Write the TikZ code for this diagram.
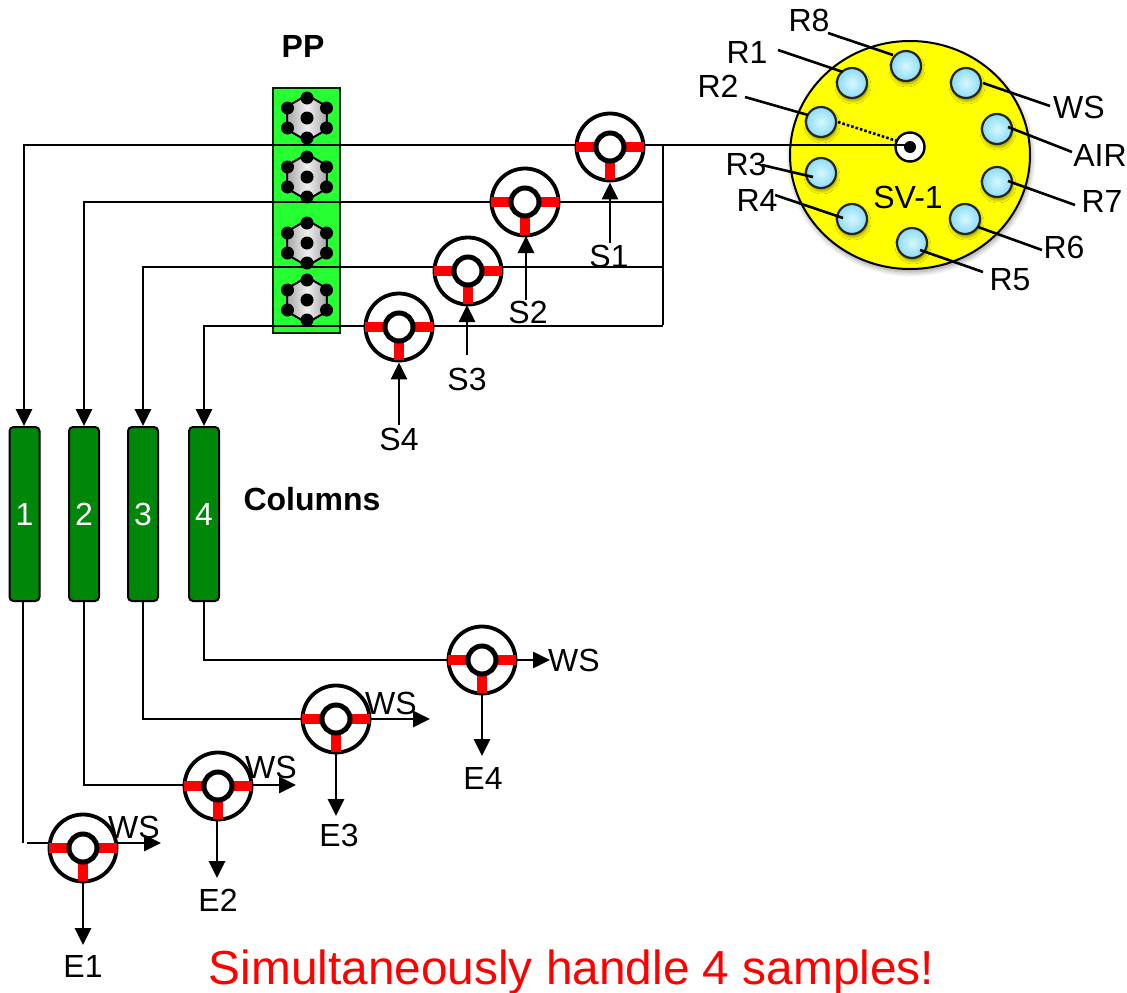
\documentclass[tikz,border=0pt]{standalone}
\usepackage{fontspec}
\setmainfont{Liberation Sans}
\usetikzlibrary{arrows.meta,calc,shapes.geometric,shadows.blur}
\pgfdeclarelayer{lines}
\pgfsetlayers{lines,main}
\definecolor{portblue}{RGB}{140,220,245}
\definecolor{portlight}{RGB}{215,248,255}
\definecolor{colgreen}{RGB}{0,135,10}
\definecolor{ppgreen}{RGB}{38,255,50}
\definecolor{svyellow}{RGB}{255,255,0}
\definecolor{pure}{RGB}{255,0,0}
\tikzset{
  x=1pt,y=-1pt,
  txt/.style={inner sep=0pt,font=\fontsize{32}{32}\selectfont},
  boldtxt/.style={inner sep=0pt,font=\fontsize{32}{32}\selectfont\bfseries},
  pipe/.style={line width=2.9pt,line cap=butt},
  arr/.style={pipe,-{Triangle[length=17pt,width=16pt]}},
  leader/.style={line width=2.6pt},
  valveouter/.style={circle,draw=black,fill=white,line width=3.8pt,minimum size=67pt,inner sep=0pt},
  valveinner/.style={circle,draw=black,fill=white,line width=5pt,minimum size=28pt,inner sep=0pt},
  bar/.style={pure,line width=10pt},
  column/.style={rectangle,rounded corners=4pt,draw=black,fill=colgreen,line width=2pt,minimum width=30pt,minimum height=174pt,inner sep=0pt,text=white,font=\fontsize{32}{32}\selectfont},
  portnode/.style={circle,draw=black!85,line width=2.2pt,minimum size=30pt,inner sep=0pt,inner color=portlight,outer color=portblue,blur shadow={shadow blur steps=6,shadow xshift=1pt,shadow yshift=-3pt,shadow blur radius=3pt,shadow opacity=40}},
  gearhex/.style={regular polygon,regular polygon sides=6,shape border rotate=30,draw=black,line width=2pt,minimum size=46pt,inner sep=0pt,left color=black!35,right color=black!35,middle color=black!6},
  geardot/.style={circle,fill=black,minimum size=13pt,inner sep=0pt},
}
\newcommand{\mkvalve}[3]{%
  \node[valveouter] (#1) at (#2,#3) {};
  \draw[bar] (#1.center) ++(-34,0) -- ++(21,0);
  \draw[bar] (#1.center) ++(13,0) -- ++(21,0);
  \draw[bar] (#1.center) ++(0,13) -- ++(0,20);
  \node[valveinner] at (#1.center) {};
}
\newcommand{\mkgear}[3]{%
  \node[gearhex] (#1) at (#2,#3) {};
  \node[geardot] at (#1.center) {};
  \foreach \dx/\dy in {0/-20,19.5/-10,19.5/10,0/20,-19.5/10,-19.5/-10}
    \node[geardot] at ($(#1.center)+(\dx,\dy)$) {};
}
\begin{document}
\begin{tikzpicture}
\useasboundingbox (0,0) rectangle (1127,993);

\mkgear{g1}{307}{118}
\mkgear{g2}{307}{177}
\mkgear{g3}{307}{243}
\mkgear{g4}{307}{300}

% selection valve
\node[ellipse,draw=black,line width=2pt,fill=svyellow,minimum width=240pt,minimum height=228pt,inner sep=0pt,blur shadow={shadow blur steps=8,shadow xshift=1pt,shadow yshift=-3pt,shadow blur radius=5pt,shadow opacity=40}] (sv) at (910,155) {};
\node[portnode] (pR8) at (906,66) {};
\node[portnode] (pWS) at (966,83) {};
\node[portnode] (pAIR) at (997,129) {};
\node[portnode] (pR7) at (997,182) {};
\node[portnode] (pR6) at (965,219) {};
\node[portnode] (pR5) at (912,243) {};
\node[portnode] (pR4) at (852,219) {};
\node[portnode] (pR3) at (821,173) {};
\node[portnode] (pR2) at (821,122) {};
\node[portnode] (pR1) at (852,83) {};
\node[circle,draw=black,fill=white,line width=2.4pt,minimum size=29pt,inner sep=0pt] (hub) at (910,147) {};
\node[circle,fill=black,minimum size=12pt,inner sep=0pt] (hubdot) at (910,147) {};
\node[txt] (tSV) at (908,197) {SV-1};

% labels on ports
\node[txt] (lR8) at (809,20) {R8};
\node[txt] (lR1) at (747,52) {R1};
\node[txt] (lR2) at (718,86) {R2};
\node[txt] (lR3) at (746,164) {R3};
\node[txt] (lR4) at (757,200) {R4};
\node[txt] (lR5) at (1010,280) {R5};
\node[txt] (lR6) at (1064,247) {R6};
\node[txt] (lR7) at (1102,201) {R7};
\node[txt] (lAIR) at (1100,155) {AIR};
\node[txt] (lWS) at (1079,107) {WS};
\coordinate (aR8) at (828,33); \coordinate (bR8) at (893,55);
\coordinate (aR1) at (778,50); \coordinate (bR1) at (843,72);
\coordinate (aR2) at (745,97); \coordinate (bR2) at (808,115);
\coordinate (aR3) at (762,165); \coordinate (bR3) at (813,177);
\coordinate (aR4) at (775,195); \coordinate (bR4) at (843,218);
\coordinate (aR5) at (983,272); \coordinate (bR5) at (920,250);
\coordinate (aR6) at (1042,250); \coordinate (bR6) at (978,227);
\coordinate (aR7) at (1075,205); \coordinate (bR7) at (1008,181);
\coordinate (aAIR) at (1072,152); \coordinate (bAIR) at (1008,127);
\coordinate (aWS) at (1050,106); \coordinate (bWS) at (983,83);
\foreach \n in {R8,R1,R2,R3,R4,R5,R6,R7,AIR,WS}
  \draw[leader] (a\n) -- (b\n);
\draw[line width=2.6pt,dotted] (838,122) -- (897,141);

% valves
\mkvalve{v1}{610}{147}
\mkvalve{v2}{525}{202}
\mkvalve{v3}{468}{271}
\mkvalve{v4}{399}{327}
\mkvalve{w4}{482}{660}
\mkvalve{w3}{336}{719}
\mkvalve{w2}{218}{786}
\mkvalve{w1}{83}{848}

% columns
\node[column] (c1) at (24.5,514) {1};
\node[column] (c2) at (84,514) {2};
\node[column] (c3) at (143,514) {3};
\node[column] (c4) at (204,514) {4};

% texts
\node[boldtxt] (tPP) at (303,46) {PP};
\node[boldtxt] (tCol) at (312,499) {Columns};
\node[txt] (s1) at (609,256) {S1};
\node[txt] (s2) at (528,312) {S2};
\node[txt] (s3) at (467,379) {S3};
\node[txt] (s4) at (399,439) {S4};
\node[txt] (e1) at (83,966) {E1};
\node[txt] (e2) at (218,900) {E2};
\node[txt] (e3) at (339,835) {E3};
\node[txt] (e4) at (483,778) {E4};
\node[txt] (ws1) at (134,827) {WS};
\node[txt] (ws2) at (271,767) {WS};
\node[txt] (ws3) at (391,703) {WS};
\node[txt] (ws4) at (574,660) {WS};
\node[inner sep=0pt,text=pure,font=\fontsize{47.8}{48}\selectfont] (tSim) at (571.5,972) {Simultaneously handle 4 samples!};

% plumbing
\coordinate (hubin) at (908,145);
\coordinate (j1) at (663,145);
\coordinate (j2) at (663,202);
\coordinate (j3) at (663,267);
\coordinate (j4) at (663,326);
\coordinate (d1) at (24,145);
\coordinate (d2) at (84,202);
\coordinate (d3) at (143,267);
\coordinate (d4) at (204,326);
\coordinate (o1) at (23,843);
\coordinate (o1b) at (27,843);
\coordinate (o1e) at (161,843);
\coordinate (o2) at (84,785);
\coordinate (o2e) at (296,785);
\coordinate (o3) at (143,719);
\coordinate (o3e) at (430,719);
\coordinate (o4) at (204,660);
\coordinate (o4e) at (550,660);
\draw[pipe] (j1) -- (hubin);
\begin{pgfonlayer}{lines}
  \node[rectangle,draw=black!85!green,fill=ppgreen,line width=2.4pt,minimum width=67pt,minimum height=245pt,inner sep=0pt] (pp) at (306.5,210.5) {};
  \draw[arr] (j1) -- (d1) -- (d1 |- c1.north);
  \draw[arr] (j2) -- (d2) -- (d2 |- c2.north);
  \draw[arr] (j3) -- (d3) -- (d3 |- c3.north);
  \draw[arr] (j4) -- (d4) -- (d4 |- c4.north);
  \draw[pipe] ([yshift=-1.45pt]j1) -- ([yshift=1.45pt]j4);
  \draw[pipe] (o1 |- c1.south) -- (o1);
  \draw[arr] (o1b) -- (o1e);
  \draw[arr] (c2.south) -- (o2) -- (o2e);
  \draw[arr] (c3.south) -- (o3) -- (o3e);
  \draw[arr] (c4.south) -- (o4) -- (o4e);
\end{pgfonlayer}
\draw[arr] (v1.south |- 0,243) -- (v1.south);
\draw[arr] (526,300) -- (526,236);
\draw[arr] (467,355) -- (467,305);
\draw[arr] (399,425) -- (v4.south);
\draw[arr] (w1.south) -- (83,945);
\draw[arr] (217,820) -- (217,878);
\draw[arr] (w3.south) -- (336,816);
\draw[arr] (w4.south) -- (482,756);
\end{tikzpicture}
\end{document}
